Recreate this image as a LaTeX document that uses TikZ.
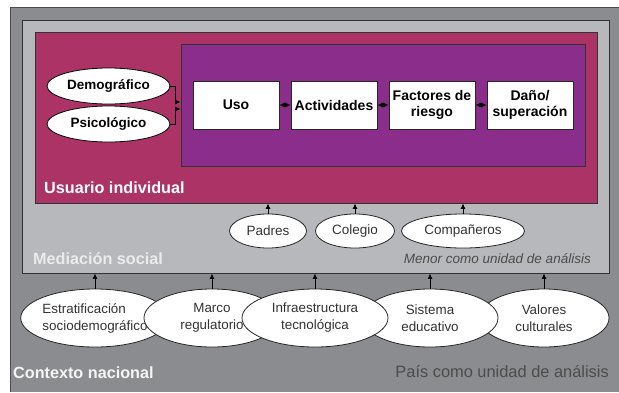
\documentclass[tikz,border=0pt]{standalone}
\usepackage{fontspec}
\setmainfont{Liberation Sans}
\usetikzlibrary{arrows.meta,shapes.geometric}

\definecolor{nacional}{HTML}{8B8C8F}
\definecolor{social}{HTML}{B7B8BB}
\definecolor{usuario}{HTML}{AC3366}
\definecolor{entorno}{HTML}{8B2D8B}
\definecolor{tinta}{HTML}{333333}

\tikzset{
  marco/.style={draw=black!80, line width=0.9pt, inner sep=0pt},
  caja/.style={draw=black!85, fill=white, line width=0.8pt, minimum width=86, minimum height=48,
    inner sep=1pt, align=center, font=\bfseries\fontsize{14}{16}\selectfont},
  persona/.style={ellipse, draw=black, fill=white, line width=0.8pt, minimum width=123,
    minimum height=36, inner sep=0pt, font=\bfseries\fontsize{13.5}{16}\selectfont},
  mediador/.style={ellipse, draw=black!85, fill=white, line width=0.8pt, minimum height=34,
    inner sep=0pt, text=tinta, font=\fontsize{13.5}{16}\selectfont},
  pais/.style={ellipse, draw=black!85, fill=white, line width=0.8pt, minimum height=58,
    inner sep=0pt, align=center, text=tinta, font=\fontsize{13.4}{17}\selectfont},
  conector/.style={line width=0.8pt, black},
  titulo/.style={inner sep=0pt, font=\bfseries\fontsize{16.2}{18}\selectfont},
  nota/.style={inner sep=0pt, text=black!70},
}

\begin{document}
\begin{tikzpicture}[x=1pt, y=-1pt, >={Latex[length=5.5pt,width=5pt]}]
    \useasboundingbox (0,0) rectangle (619,392);
    \fill[white] (0,0) rectangle (619,392);
    \fill[nacional] (10,7) rectangle (619,392); % pais
    \draw[black!70, line width=0.9pt] (10,392) -- (10,7) -- (619,7);
    \node[marco, fill=social, minimum width=587, minimum height=253] (mediacion) at (315.5,146.5) {};
    \node[marco, fill=usuario, minimum width=562, minimum height=171] (individuo) at (316,117.5) {};
    \node[marco, fill=entorno, minimum width=404, minimum height=122] (proceso) at (383,105) {};

    % cadena de uso
    \foreach \x/\t/\n in {
        236/Uso/uso,
        334/Actividades/act,
        432/{Factores de\\riesgo}/fac,
        530/{Daño/\\superación}/dan}
    \node[caja] (\n) at (\x,105) {\t};
    \draw[<->, conector] (uso) -- (act);
    \draw[<->, conector] (act) -- (fac);
    \draw[<->, conector] (fac) -- (dan);

    \node[persona] (demo) at (108.5,86) {Demográfico};
    \node[persona] (psico) at (108.5,124) {Psicológico};
    \draw[->, conector] (demo.east) -- ++(5,0) |- ([yshift=3pt]proceso.west);
    \draw[->, conector] (psico.east) -- ++(5,0) |- ([yshift=-4pt]proceso.west);

    % mediacion social
    \foreach \x/\w/\t/\n in {
        268/77/Padres/padres,
        355/79/Colegio/colegio,
        463/123/Compañeros/comp}
    \node[mediador, minimum width=\w] (\n) at (\x,231) {\t};
    \foreach \n in {padres,colegio,comp}
    \draw[->, conector] (\n.north) -- (\n.north |- individuo.south);

    % contexto nacional
    \node[pais, align=left] (estr) at (95,318) {Estratificación\\sociodemográfico};
    \foreach \x/\w/\t/\n in {
        212/136/{Marco\\regulatorio}/marco,
        544/130/{Valores\\culturales}/valores,
        430/136/{Sistema\\educativo}/sistema,
        315/146/{Infraestructura\\tecnológica}/infra}
    \node[pais, minimum width=\w] (\n) at (\x,318) {\t};
    \foreach \n in {estr,marco,infra,sistema,valores}
    \draw[->, conector] (\n.north) -- (\n.north |- mediacion.south);

    \node[titulo, anchor=west, text=white] (tusuario) at (44,188) {Usuario individual};
    \node[titulo, anchor=west, text=black!8] (tmediacion) at (33,259) {Mediación social};
    \node[nota, anchor=east, font=\itshape\fontsize{13.5}{16}\selectfont] (tmenor) at (591,259) {Menor como unidad de análisis};
    \node[titulo, anchor=west, text=black!4] (tcontexto) at (13,373) {Contexto nacional};
    \node[nota, anchor=east, font=\fontsize{16.4}{18}\selectfont] (tpais) at (609,372) {País como unidad de análisis};
\end{tikzpicture}
\end{document}
